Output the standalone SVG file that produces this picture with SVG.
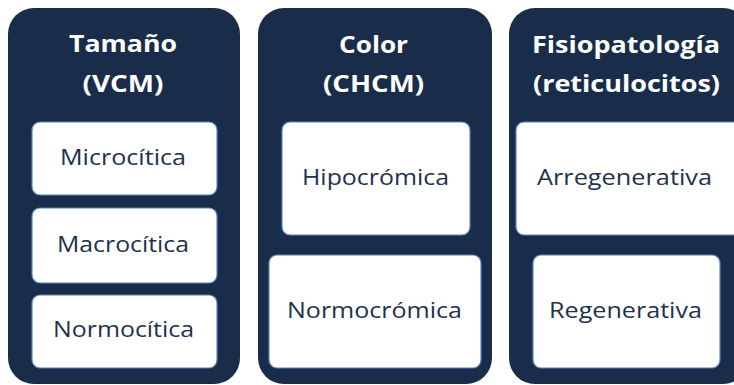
<svg xmlns="http://www.w3.org/2000/svg" width="734" height="385" viewBox="0 0 734 385">
<style>
.panel{fill:#192d4b}
.box{fill:#ffffff;stroke:#5b86c8;stroke-width:1.2}
.title{font-family:"Open Sans","Liberation Sans",sans-serif;font-weight:700;font-size:24px;fill:#ffffff;text-anchor:middle}
.label{font-family:"Open Sans","Liberation Sans",sans-serif;font-size:22px;fill:#22314d;text-anchor:middle}
</style>
<rect width="734" height="385" fill="#ffffff"/>
<g id="panel-tamano">
<rect class="panel" x="8" y="8" width="232" height="376" rx="26"/>
<text class="title" x="123" y="52" textLength="108" lengthAdjust="spacingAndGlyphs">Tamaño</text>
<text class="title" x="123" y="92" textLength="81" lengthAdjust="spacingAndGlyphs">(VCM)</text>
<g id="microcitica"><rect class="box" x="32" y="122" width="185" height="73" rx="8"/><text class="label" x="123" y="165" textLength="126" lengthAdjust="spacingAndGlyphs">Microcítica</text></g>
<g id="macrocitica"><rect class="box" x="32" y="208" width="185" height="75" rx="8"/><text class="label" x="123" y="252" textLength="132" lengthAdjust="spacingAndGlyphs">Macrocítica</text></g>
<g id="normocitica"><rect class="box" x="32" y="295" width="185" height="73" rx="8"/><text class="label" x="123.5" y="337" textLength="141" lengthAdjust="spacingAndGlyphs">Normocítica</text></g>
</g>
<g id="panel-color">
<rect class="panel" x="258" y="8" width="234" height="376" rx="26"/>
<text class="title" x="373.5" y="53" textLength="69" lengthAdjust="spacingAndGlyphs">Color</text>
<text class="title" x="373.5" y="92" textLength="101" lengthAdjust="spacingAndGlyphs">(CHCM)</text>
<g id="hipocromica"><rect class="box" x="282" y="122" width="188" height="113" rx="8"/><text class="label" x="375.5" y="185" textLength="147" lengthAdjust="spacingAndGlyphs">Hipocrómica</text></g>
<g id="normocromica"><rect class="box" x="269" y="255" width="212" height="113" rx="8"/><text class="label" x="374.5" y="318" textLength="175" lengthAdjust="spacingAndGlyphs">Normocrómica</text></g>
</g>
<g id="panel-fisiopatologia">
<rect class="panel" x="509" y="8" width="240" height="376" rx="26"/>
<text class="title" x="626" y="53" textLength="188" lengthAdjust="spacingAndGlyphs">Fisiopatología</text>
<text class="title" x="626.5" y="92" textLength="187" lengthAdjust="spacingAndGlyphs">(reticulocitos)</text>
<g id="arregenerativa"><rect class="box" x="516" y="122" width="230" height="113" rx="8"/><text class="label" x="624.5" y="185" textLength="175" lengthAdjust="spacingAndGlyphs">Arregenerativa</text></g>
<g id="regenerativa"><rect class="box" x="533" y="255" width="187" height="113" rx="8"/><text class="label" x="625.5" y="318" textLength="153" lengthAdjust="spacingAndGlyphs">Regenerativa</text></g>
</g>
<g id="connectors"/>
</svg>
